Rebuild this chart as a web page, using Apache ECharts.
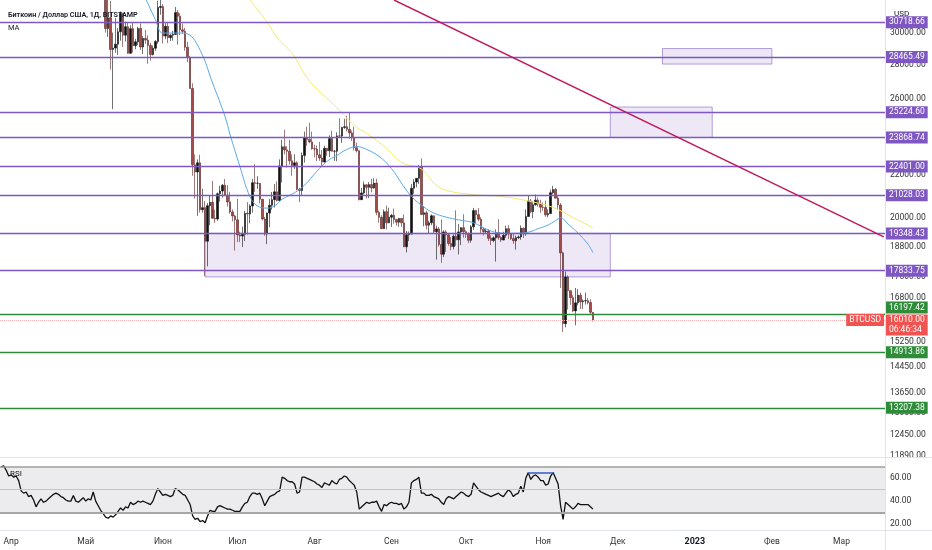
<!DOCTYPE html>
<html>
<head>
<meta charset="utf-8">
<script src="https://cdn.jsdelivr.net/npm/echarts@6/dist/echarts.min.js"></script>
<style>
  html, body { margin: 0; padding: 0; background: #fff; }
  #chart { width: 932px; height: 550px; }
</style>
</head>
<body>
<div id="chart"></div>
<script>
// дневные свечи BTCUSD, Bitstamp: [open, high, low, close]
const firstDay = '2022-03-28';
const dayCount = 356;
const candleStart = '2022-05-05';

const mayBars = [
  [39690,39850,35580,36550],[36550,36670,35260,36010],[36010,36130,34780,35470],[35470,35500,33710,34060],
  [34060,34240,30030,30300],[30300,32630,29750,31020],[31020,32180,27700,28940],[28940,30030,25400,29030],
  [29030,31000,28730,29280],[29280,30330,28600,30080],[30080,31450,29500,31310],[31310,31320,29100,29860],
  [29860,30760,29450,30420],[30420,30690,28670,28700],[28700,30520,28670,30290],[30290,30740,28740,29180],
  [29180,29620,28950,29430],[29430,30420,29230,30300],[30300,30630,28900,29100],[29100,29800,28650,29650],
  [29650,30200,29300,29540],[29540,29850,28050,29200],[29200,29360,28240,28620],[28620,29190,28560,29020],
  [29020,29540,28850,29450],[29450,32200,29300,31730],[31730,32370,31220,31790]
];
const junBars = [
  [31790,31960,29320,29800],[29800,30650,29600,30450],[30450,30680,29350,29700],[29700,29950,29480,29860],
  [29860,30150,29500,29910],[29910,31760,29880,31370],[31370,31550,29250,31130],[31130,31320,29870,30210],
  [30210,30630,29950,30110],[30110,30340,28860,29080],[29080,29430,28150,28420],[28420,28540,26560,26570],
  [26570,26880,21950,22480],[22480,23000,20880,22130],[22130,22750,20110,22580],[22580,22980,20250,20380],
  [20380,21330,20250,20470],[20470,20770,17620,19020],[19020,20680,18000,20560],[20560,21030,19700,20710],
  [20710,21700,20380,20000],[20000,20380,19800,19970],[19970,21160,19890,21100],[21100,21480,20740,21230],
  [21230,21560,20930,21500],[21500,21800,21000,21030],[21030,21500,20520,20730],[20730,21190,20200,20280],
  [20280,20390,19860,20100],[20100,20150,18640,19930]
];
const julBars = [
  [19930,20870,18980,19280],[19280,19420,18990,19240],[19240,19640,18780,19310],[19310,20330,19030,20220],
  [20220,20720,19300,20190],[20190,20620,19780,20550],[20550,21800,20250,21620],[21620,22510,21190,21590],
  [21590,21930,21330,21590],[21590,21600,20660,20850],[20850,20860,19910,19970],[19970,20060,19250,19320],
  [19320,20250,18900,20230],[20230,20870,19610,20580],[20580,21190,20380,20830],[20830,21560,20480,21190],
  [21190,21680,20750,20790],[20790,22750,20770,22430],[22430,23750,21630,23390],[23390,24280,23000,23230],
  [23230,23420,22350,23160],[23160,23750,22490,22680],[22680,23000,21950,22450],[22450,23010,22280,22580],
  [22580,22660,21260,21310],[21310,21380,20720,21250],[21250,23100,21040,22950],[22950,24180,22590,23850],
  [23850,24440,23430,23770],[23770,24650,23570,23640],[23640,24180,23240,23290]
];
const augBars = [
  [23290,23490,22850,23270],[23270,23450,22660,22980],[22980,23640,22680,22820],[22820,23220,22440,22620],
  [22620,23440,22600,23310],[23310,23340,22930,23180],[23180,23980,22870,23810],[23810,24220,23170,23160],
  [23160,23230,22680,23160],[23160,24140,22660,23950],[23950,24900,23860,23940],[23940,24440,23580,24400],
  [24400,24870,24320,24440],[24440,25040,24180,24300],[24300,25210,23800,24110],[24110,24230,23690,23850],
  [23850,24440,23200,23340],[23340,23600,23100,23190],[23190,23200,20800,20830],[20830,21370,20820,21140],
  [21140,21670,21070,21520],[21520,21530,20890,21400],[21400,21650,20900,21530],[21530,21800,21170,21370],
  [21370,21830,21340,21600],[21600,21810,20130,20260],[20260,20340,19810,20040],[20040,20140,19570,19550],
  [19550,20390,19550,20290],[20290,20560,19520,19800],[19800,20470,19790,20050]
];
const sepBars = [
  [20050,20190,19630,20130],[20130,20430,19770,19950],[19950,19970,19680,19830],[19830,20020,19640,19990],
  [19990,20000,19630,19800],[19800,20170,18780,18790],[18790,19450,18560,19290],[19290,19430,19020,19320],
  [19320,21560,19300,21360],[21360,21790,21100,21650],[21650,21830,21400,21830],[21830,22470,21560,22400],
  [22400,22800,20200,20170],[20170,20540,19650,20240],[20240,20330,19520,19700],[19700,19890,19330,19800],
  [19800,20170,19700,20110],[20110,20120,19370,19420],[19420,19680,18270,19540],[19540,19620,18800,18880],
  [18880,19950,18140,18490],[18490,19480,18370,19410],[19410,19490,18580,19290],[19290,19320,18830,18930],
  [18930,19190,18650,18800],[18800,19310,18680,19230],[19230,20350,18830,19080],[19080,19760,18480,19410],
  [19410,19620,18860,19590],[19590,20180,19170,19420]
];
const octBars = [
  [19420,19480,19160,19310],[19310,19390,18940,19060],[19060,19700,18960,19630],[19630,20460,19500,20340],
  [20340,20370,19780,20160],[20160,20450,19870,19960],[19960,20050,19330,19530],[19530,19610,19260,19420],
  [19420,19560,19330,19450],[19450,19530,19030,19140],[19140,19270,18860,19050],[19050,19220,18980,19160],
  [19160,19520,18190,19380],[19380,19960,19080,19180],[19180,19230,18990,19070],[19070,19420,19060,19270],
  [19270,19680,19160,19550],[19550,19700,19110,19330],[19330,19350,19070,19130],[19130,19340,18910,19040],
  [19040,19250,18670,19170],[19170,19260,19110,19200],[19200,19690,19080,19570],[19570,19600,19160,19330],
  [19330,20390,19250,20080],[20080,21010,20060,20770],[20770,20860,20220,20290],[20290,20750,20000,20600],
  [20600,21070,20560,20810],[20810,20930,20510,20630],[20630,20830,20240,20490]
];
const novBars = [
  [20490,20700,20330,20480],[20480,20790,20060,20150],[20150,20390,20040,20210],[20210,21290,20180,21150],
  [21150,21470,21080,21300],[21300,21360,20900,20900],[20900,21050,20390,20590],[20590,20680,17170,18540],
  [18540,18590,15590,15880],[15880,17800,15750,17590],[17590,17650,16380,17070],[17070,17070,16550,16810],
  [16810,16910,16290,16330],[16330,17170,15820,16620],[16620,17130,16530,16900],[16900,17000,16400,16660],
  [16660,16750,16400,16690],[16690,17000,16560,16700],[16700,16800,16570,16630],[16630,16750,16200,16280],
  [16280,16290,15950,16010]
];

// скользящие средние, точки
const maBlue = [
  ['2022-05-25',32400],['2022-05-29',30900],['2022-06-01',30000],['2022-06-08',30000],['2022-06-11',29940],
  ['2022-06-16',28900],['2022-06-21',26900],['2022-06-26',25000],['2022-06-28',24050],['2022-07-02',22400],
  ['2022-07-06',20980],['2022-07-09',20550],['2022-07-13',20450],['2022-07-16',20550],['2022-07-19',20850],
  ['2022-07-24',21150],['2022-07-28',21500],['2022-08-02',22170],['2022-08-06',22650],['2022-08-10',22950],
  ['2022-08-14',23250],['2022-08-18',23400],['2022-08-22',23250],['2022-08-27',22900],['2022-09-01',22300],
  ['2022-09-05',21600],['2022-09-09',20980],['2022-09-14',20500],['2022-09-18',20230],['2022-09-23',20050],
  ['2022-09-28',19930],['2022-10-04',19800],['2022-10-10',19490],['2022-10-15',19360],['2022-10-20',19350],
  ['2022-10-26',19400],['2022-10-30',19550],['2022-11-03',19710],['2022-11-06',19900],['2022-11-08',20020],
  ['2022-11-11',19750],['2022-11-15',19360],['2022-11-19',18900],['2022-11-21',18550]
];
const maYellow = [
  ['2022-07-05',32500],['2022-07-13',30700],['2022-07-17',29700],['2022-07-23',28700],['2022-07-29',27200],
  ['2022-08-03',26400],['2022-08-08',25750],['2022-08-12',25200],['2022-08-17',24500],['2022-08-23',24000],
  ['2022-08-30',23300],['2022-09-05',22600],['2022-09-13',22280],['2022-09-18',21610],['2022-09-22',21300],
  ['2022-10-02',21080],['2022-10-15',20980],['2022-10-26',20770],['2022-11-05',20480],['2022-11-13',20030],
  ['2022-11-21',19590]
];

// RSI по дням с 2022-03-28
const rsiValues = [
  70,71,67,62,63,61,62,58,49,47, 48,44,45,41,35,39,42,39,40,42,
  44,46,47,46,44,43,41,40,40,45, 40,39,41,43,40,42,41,48,40,36,
  32,29,26,25,27,26,28,31,34,32, 35,34,39,37,38,40,39,40,39,38,
  37,40,46,51,48,45,46,45,44,45, 51,50,48,46,45,41,37,27,24,25,
  22,23,21,27,32,31,31,35,36,35, 34,33,33,32,31,31,31,35,38,39,
  44,47,47,46,47,42,36,40,44,45, 46,48,49,61,60,58,57,57,55,47,
  48,61,61,60,59,58,57,55,54,52, 56,55,54,58,56,55,59,60,62,61,
  58,56,54,48,33,35,37,39,38,39, 39,40,35,31,37,36,38,39,38,38,
  37,38,33,35,39,56,58,59,61,47, 47,45,45,46,44,43,42,39,37,42,
  44,43,42,44,46,48,47,45,44,46, 56,53,50,48,47,46,45,44,45,46,
  47,45,44,47,50,48,44,46,47,53, 48,60,65,59,62,63,61,58,58,54,
  55,62,65,60,55,36,24,39,37,35, 33,35,38,37,37,37,37,35,33
];

const purpleLevels = [30718.66, 28465.49, 25224.60, 23868.74, 22401.00, 21028.03, 19348.43, 17833.75];
const greenLevels = [16197.42, 14913.86, 13207.38];
const lastPrice = 16010.00;
const countdown = '06:46:34';
const priceTicks = [30000, 28000, 26000, 22000, 20000, 18800, 17600, 16800, 15250, 14450, 13650, 13050, 12450, 11890];
const rsiTicks = [20, 40, 60];
const monthNames = ['Янв','Фев','Мар','Апр','Май','Июн','Июл','Авг','Сен','Окт','Ноя','Дек'];

// зоны и трендовая линия
const zones = [
  [['2022-06-18', 19348.43], ['2022-11-28', 17590]],
  [['2022-11-28', 25515], ['2023-01-08', 23868.74]],
  [['2022-12-19', 29000], ['2023-02-01', 28030]]
];
const trendLine = [['2022-09-02', 32250], ['2023-03-18', 19200]];
const rsiSegment = [['2022-10-26', 65], ['2022-11-05', 65]];

const PURPLE = '#7e57c2';
const GREEN = '#2e8b3a';
const RED = '#f05350';

function buildDates(start, n) {
  const out = [];
  const d = new Date(start + 'T00:00:00Z');
  for (let i = 0; i < n; i++) {
    out.push(d.toISOString().slice(0, 10));
    d.setUTCDate(d.getUTCDate() + 1);
  }
  return out;
}

const dates = buildDates(firstDay, dayCount);
const bars = [].concat(mayBars, junBars, julBars, augBars, sepBars, octBars, novBars);
const startIdx = dates.indexOf(candleStart);
const candleData = [];
for (let i = 0; i < startIdx + bars.length; i++) {
  const b = bars[i - startIdx];
  candleData.push(b ? [b[0], b[3], b[2], b[1]] : '-');
}

function levelItem(value, color, offsetY) {
  return {
    yAxis: value,
    lineStyle: { color: color, width: 1.3, type: 'solid' },
    label: {
      formatter: value.toFixed(2),
      backgroundColor: color,
      offset: [0, offsetY || 0]
    }
  };
}

const levelLines = purpleLevels.map(v => levelItem(v, PURPLE))
  .concat(greenLevels.map(v => levelItem(v, GREEN, v === 16197.42 ? -7 : 0)));

levelLines.push({
  yAxis: lastPrice,
  lineStyle: { color: '#f6b3b3', width: 1, type: 'dotted' },
  label: {
    formatter: lastPrice.toFixed(2) + '\n' + countdown,
    backgroundColor: RED,
    lineHeight: 9.5,
    padding: [1, 3],
    offset: [0, 5]
  }
});
const lastPriceTag = {
  yAxis: lastPrice,
  lineStyle: { color: 'rgba(0,0,0,0)', width: 1, type: 'solid' },
  label: { formatter: 'BTCUSD', backgroundColor: RED, position: 'insideEnd', distance: 1 }
};
levelLines.push(lastPriceTag);
levelLines.push([
  { coord: trendLine[0], lineStyle: { color: '#c0185a', width: 1.4, type: 'solid' }, label: { show: false } },
  { coord: trendLine[1] }
]);

const chart = echarts.init(document.getElementById('chart'));

const labelFont = { fontFamily: 'Roboto, sans-serif', fontSize: 8.5, color: '#333' };

chart.setOption({
  animation: false,
  backgroundColor: '#fff',
  title: [
    { text: 'Биткоин / Доллар США, 1Д, BITSTAMP', left: 3, top: 7,
      textStyle: { fontFamily: 'Roboto, sans-serif', fontSize: 7.2, fontWeight: 600, color: '#131722' } },
    { text: 'MA', left: 3, top: 19,
      textStyle: { fontFamily: 'Roboto, sans-serif', fontSize: 7.5, fontWeight: 'normal', color: '#131722' } },
    { text: 'USD', left: 889, top: 5,
      textStyle: { fontFamily: 'Roboto, sans-serif', fontSize: 8, fontWeight: 'normal', color: '#131722' } },
    { text: 'RSI', left: 5, top: 465,
      textStyle: { fontFamily: 'Roboto, sans-serif', fontSize: 8, fontWeight: 'normal', color: '#131722' } }
  ],
  graphic: [
    { type: 'line', shape: { x1: 885.5, y1: 0, x2: 885.5, y2: 550 }, style: { stroke: '#e0e3eb', lineWidth: 1 }, z: 10 },
    { type: 'line', shape: { x1: 0, y1: 457.5, x2: 932, y2: 457.5 }, style: { stroke: '#e0e3eb', lineWidth: 1 }, z: 10 },
    { type: 'line', shape: { x1: 0, y1: 530.5, x2: 932, y2: 530.5 }, style: { stroke: '#e0e3eb', lineWidth: 1 }, z: 10 }
  ],
  grid: [
    { left: 0, right: 47, top: 0, height: 457 },
    { left: 0, right: 47, top: 458, height: 72 }
  ],
  xAxis: [
    { type: 'category', gridIndex: 0, data: dates, boundaryGap: true, show: false },
    {
      type: 'category', gridIndex: 1, data: dates, boundaryGap: true,
      axisLine: { show: false }, axisTick: { show: false }, splitLine: { show: false },
      axisLabel: Object.assign({}, labelFont, {
        margin: 7,
        interval: (idx, value) => value.slice(8) === '01',
        formatter: value => {
          const m = parseInt(value.slice(5, 7), 10);
          return m === 1 ? '{y|' + value.slice(0, 4) + '}' : monthNames[m - 1];
        },
        rich: { y: { fontFamily: 'Roboto, sans-serif', fontSize: 9, fontWeight: 'bold', color: '#131722' } }
      })
    }
  ],
  yAxis: [
    {
      type: 'log', gridIndex: 0, position: 'right', min: 11860, max: 32250,
      axisLine: { show: false }, axisTick: { show: false }, splitLine: { show: false },
      axisLabel: Object.assign({}, labelFont, {
        margin: 5,
        customValues: priceTicks,
        formatter: v => Number(v).toFixed(2)
      })
    },
    {
      type: 'value', gridIndex: 1, position: 'right', min: 14.7, max: 77.8,
      axisLine: { show: false }, axisTick: { show: false }, splitLine: { show: false },
      axisLabel: Object.assign({}, labelFont, {
        margin: 5,
        customValues: rsiTicks,
        formatter: v => Number(v).toFixed(2)
      })
    }
  ],
  series: [
    {
      name: 'BTCUSD',
      type: 'candlestick',
      xAxisIndex: 0, yAxisIndex: 0,
      data: candleData,
      barWidth: 2,
      itemStyle: {
        color: '#111111', color0: '#a84a4a',
        borderColor: '#111111', borderColor0: '#5a2222',
        borderWidth: 0.6
      },
      markArea: {
        silent: true,
        itemStyle: { color: 'rgba(126,87,194,0.14)', borderColor: 'rgba(126,87,194,0.55)', borderWidth: 1 },
        data: zones.map(z => [{ coord: z[0] }, { coord: z[1] }])
      },
      markLine: {
        silent: true,
        symbol: ['none', 'none'],
        label: {
          show: true, position: 'end', distance: 1, color: '#fff',
          fontFamily: 'Roboto, sans-serif', fontSize: 8.5, padding: [1.5, 3]
        },
        data: levelLines
      }
    },
    {
      name: 'MA 20',
      type: 'line',
      xAxisIndex: 0, yAxisIndex: 0,
      data: maBlue,
      smooth: 0.4,
      symbol: 'none',
      z: 3,
      lineStyle: { color: '#5aa9e6', width: 1 }
    },
    {
      name: 'MA 50',
      type: 'line',
      xAxisIndex: 0, yAxisIndex: 0,
      data: maYellow,
      smooth: 0.4,
      symbol: 'none',
      z: 3,
      lineStyle: { color: '#f3ea6a', width: 1 }
    },
    {
      name: 'RSI',
      type: 'line',
      xAxisIndex: 1, yAxisIndex: 1,
      data: rsiValues,
      symbol: 'none',
      z: 4,
      lineStyle: { color: '#111', width: 1.3 },
      markArea: {
        silent: true,
        itemStyle: { color: '#ececee' },
        data: [[{ yAxis: 30 }, { yAxis: 70 }]]
      },
      markLine: {
        silent: true,
        symbol: ['none', 'none'],
        label: { show: false },
        data: [
          { yAxis: 70, lineStyle: { color: '#9e9e9e', width: 1.5, type: 'solid' } },
          { yAxis: 50, lineStyle: { color: '#c4c4c4', width: 1, type: 'solid' } },
          { yAxis: 30, lineStyle: { color: '#a6a6a6', width: 1.8, type: 'solid' } },
          [
            { coord: rsiSegment[0], lineStyle: { color: '#3f63c9', width: 1.6, type: 'solid' } },
            { coord: rsiSegment[1] }
          ]
        ]
      }
    }
  ]
});
</script>
</body>
</html>
